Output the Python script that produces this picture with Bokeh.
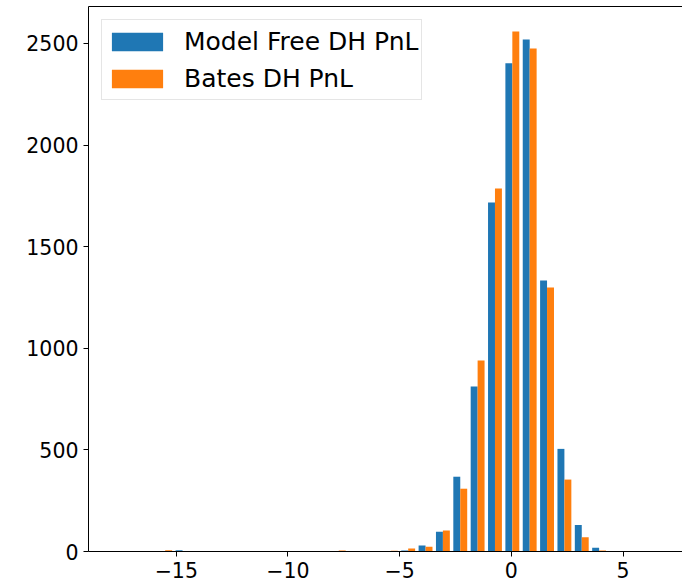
from bokeh.plotting import figure
from bokeh.models import (LinearAxis, FixedTicker, Legend, LegendItem, Range1d,
                          ColumnDataSource)
from bokeh.embed import file_html
from bokeh.resources import INLINE

# ---- data ----
bin_left_edges = [-17.44, -16.663, -15.886, -15.109, -14.332, -13.555, -12.778,
                  -12.001, -11.224, -10.447, -9.670, -8.893, -8.116, -7.339,
                  -6.562, -5.785, -5.008, -4.231, -3.454, -2.677, -1.900,
                  -1.123, -0.346, 0.431, 1.208, 1.985, 2.762, 3.539]
bin_width = 0.777
model_free_counts = [1, 0, 0, 6, 1, 0, 0, 0, 1, 0, 1, 1, 0, 0, 0, 2, 5, 30,
                     97, 368, 812, 1718, 2403, 2520, 1334, 505, 131, 18]
bates_counts = [0, 0, 6, 0, 0, 0, 0, 0, 0, 2, 0, 2, 5, 0, 2, 4, 15, 23,
                103, 309, 940, 1786, 2559, 2475, 1299, 354, 70, 5]
series_names = ["Model Free DH PnL", "Bates DH PnL"]
x_ticks = [-15, -10, -5, 0, 5]
x_tick_labels = ["\u221215", "\u221210", "\u22125", "0", "5"]
y_ticks = [0, 500, 1000, 1500, 2000, 2500]
y_tick_labels = ["0", "500", "1000", "1500", "2000", "2500"]

BLUE = "#1f77b4"
ORANGE = "#ff7f0e"
FONT = "DejaVu Sans"
FS = "20.5px"
LFS = "25px"

src = ColumnDataSource(dict(
    x1=[e + 0.3 * bin_width for e in bin_left_edges],
    x2=[e + 0.7 * bin_width for e in bin_left_edges],
    mf=model_free_counts,
    bt=bates_counts,
))

p = figure(width=682, height=586,
           x_range=Range1d(-18.93, 7.66), y_range=Range1d(0, 2682),
           output_backend="svg", toolbar_location=None,
           min_border_left=88, min_border_right=0,
           min_border_top=6, min_border_bottom=35)
p.outline_line_color = None
p.grid.visible = False
p.background_fill_color = "white"
p.border_fill_color = "white"

r1 = p.vbar(x="x1", width=0.4 * bin_width, top="mf", bottom=0, source=src,
            fill_color=BLUE, line_color=None)
r2 = p.vbar(x="x2", width=0.4 * bin_width, top="bt", bottom=0, source=src,
            fill_color=ORANGE, line_color=None)

for ax, ticks, labels in ((p.xaxis[0], x_ticks, x_tick_labels),
                          (p.yaxis[0], y_ticks, y_tick_labels)):
    ax.ticker = FixedTicker(ticks=ticks)
    ax.major_label_overrides = {t: l for t, l in zip(ticks, labels)}
    ax.major_tick_out = 5
    ax.major_tick_in = 0
    ax.minor_tick_out = 0
    ax.minor_tick_in = 0
    ax.major_tick_line_color = "black"
    ax.axis_line_color = "black"
    ax.axis_line_width = 1
    ax.major_label_text_font = FONT
    ax.major_label_text_font_size = FS
    ax.major_label_text_color = "black"
    ax.major_label_standoff = 5

# top spine
top = LinearAxis(ticker=FixedTicker(ticks=[]), major_tick_out=0, major_tick_in=0,
                 minor_tick_out=0, minor_tick_in=0, axis_line_color="black",
                 axis_line_width=1, major_label_standoff=0)
p.add_layout(top, "above")

legend = Legend(items=[LegendItem(label=series_names[0], renderers=[r1]),
                       LegendItem(label=series_names[1], renderers=[r2])],
                location="top_left", margin=13, padding=3, spacing=1,
                glyph_width=64, glyph_height=23, label_height=36,
                label_standoff=15, label_text_font=FONT,
                label_text_font_size=LFS, label_text_color="black",
                border_line_color="#cccccc", border_line_width=1,
                background_fill_color="white", background_fill_alpha=0.8)
p.add_layout(legend)

open("out.html", "w").write(file_html(p, INLINE))
